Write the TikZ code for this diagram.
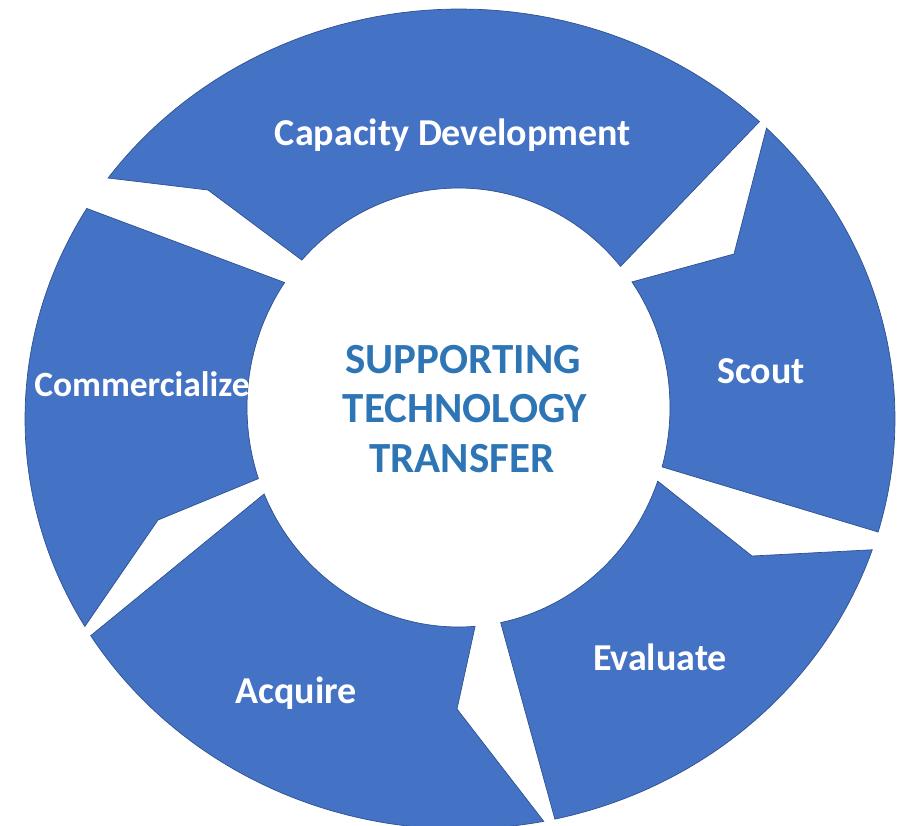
\documentclass[tikz,border=0pt]{standalone}
\usepackage{fontspec}
\setmainfont{Carlito}
\definecolor{segblue}{HTML}{4472C4}
\definecolor{segedge}{HTML}{2F528F}
\definecolor{hubtext}{HTML}{2E75B6}
\begin{document}
\begin{tikzpicture}[x=1pt,y=-1pt,
  seg/.style={fill=segblue,draw=segedge,line width=0.7pt,line join=miter},
  lab/.style={text=white,font=\fontsize{38}{46}\selectfont\bfseries,anchor=base,inner sep=0pt},
  hub/.style={text=hubtext,font=\fontsize{43}{52}\selectfont\bfseries,anchor=base,inner sep=0pt},
  declare function={ox(\t)=460+435*cos(\t); oy(\t)=419+410*sin(\t);
                    ix(\t)=458.5+211.5*cos(\t); iy(\t)=407.5+219.5*sin(\t);}]
\useasboundingbox (0,0) rectangle (897,825);
% segments
\path[seg] plot[domain=216:313.5,samples=60] ({ox(\x)},{oy(\x)})
  -- plot[domain=320:222.2,samples=60] ({ix(\x)},{iy(\x)}) -- (208,190) -- cycle;
\path[seg] plot[domain=-45.2:16,samples=60] ({ox(\x)},{oy(\x)})
  -- plot[domain=15.7:-34.9,samples=60] ({ix(\x)},{iy(\x)}) -- (734,254) -- cycle;
\path[seg] plot[domain=18.6:77.4,samples=60] ({ox(\x)},{oy(\x)})
  -- plot[domain=78.5:19.6,samples=60] ({ix(\x)},{iy(\x)}) -- (752,556) -- cycle;
\path[seg] plot[domain=78.9:148.1,samples=60] ({ox(\x)},{oy(\x)})
  -- plot[domain=156.8:85.5,samples=60] ({ix(\x)},{iy(\x)}) -- (457,709) -- cycle;
\path[seg] plot[domain=149.6:210.9,samples=60] ({ox(\x)},{oy(\x)})
  -- plot[domain=214.7:161.1,samples=60] ({ix(\x)},{iy(\x)}) -- (158,520) -- cycle;
% labels
\node[lab] (cap) at (453,145) {Capacity Development};
\node[lab] (scout) at (761,383) {Scout};
\node[lab] (eval) at (660,670) {Evaluate};
\node[lab] (acq) at (296,703) {Acquire};
\node[lab,font=\fontsize{35.5}{43}\selectfont\bfseries] (comm) at (142,396) {Commercialize};
\node[hub] (h1) at (463,373) {SUPPORTING};
\node[hub] (h2) at (465,422) {TECHNOLOGY};
\node[hub] (h3) at (462,472) {TRANSFER};
\end{tikzpicture}
\end{document}
